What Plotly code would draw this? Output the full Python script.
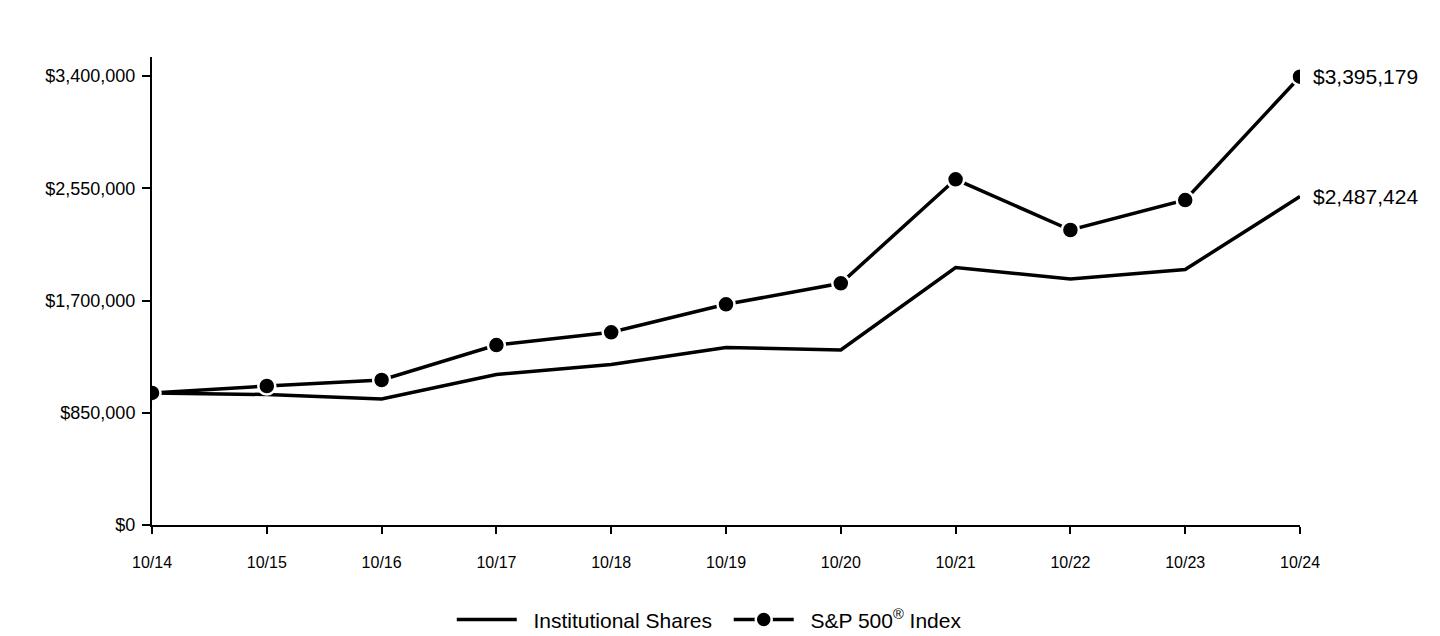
import plotly.graph_objects as go

# Growth of a $1,000,000 investment
periods = ["10/14", "10/15", "10/16", "10/17", "10/18", "10/19",
           "10/20", "10/21", "10/22", "10/23", "10/24"]
institutional = [1000000, 988000, 954000, 1139600, 1215400, 1344100,
                 1325200, 1949900, 1862800, 1934700, 2487424]
sp500 = [1000000, 1052600, 1098000, 1363000, 1459200, 1671200,
         1830300, 2617800, 2233900, 2461000, 3395179]
y_ticks = [0, 850000, 1700000, 2550000, 3400000]

font = "Liberation Sans, Arial, sans-serif"
pad = "&nbsp;&nbsp;"

fig = go.Figure()
fig.add_trace(go.Scatter(
    x=periods, y=institutional, mode="lines",
    name=pad + "Institutional Shares" + pad,
    line=dict(color="black", width=3.5),
))
fig.add_trace(go.Scatter(
    x=periods, y=sp500, mode="lines+markers",
    name=pad + "S&P 500<sup>®</sup> Index",
    line=dict(color="black", width=3.5),
    marker=dict(size=17, color="black", line=dict(color="white", width=2.5)),
))

# end-of-line value labels
for vals in (sp500, institutional):
    fig.add_annotation(
        x=periods[-1], y=vals[-1], text="${:,}".format(vals[-1]),
        showarrow=False, xanchor="left", yanchor="middle", xshift=11,
        font=dict(family=font, size=21, color="black"),
    )

# the page adds an 8px body margin, so margins are offset by it
fig.update_layout(
    width=1440, height=636,
    margin=dict(l=144, r=148, t=49, b=119),
    paper_bgcolor="white", plot_bgcolor="white",
    font=dict(family=font, color="black"),
    showlegend=True,
    legend=dict(
        orientation="h", xref="container", x=0.487, xanchor="center",
        yref="container", y=0.038, yanchor="middle",
        font=dict(family=font, size=21), itemwidth=60,
    ),
)
fig.update_xaxes(
    type="category", range=[0, 10], showgrid=False, zeroline=False,
    showline=True, linecolor="black", linewidth=2,
    ticks="outside", ticklen=7, tickwidth=2, tickcolor="black",
    tickfont=dict(family=font, size=16), ticklabelstandoff=15,
)
fig.update_yaxes(
    range=[0, 3544000], showgrid=False, zeroline=False,
    showline=True, linecolor="black", linewidth=2,
    ticks="outside", ticklen=8, tickwidth=2, tickcolor="black",
    tickvals=y_ticks, ticktext=["${:,}".format(v) for v in y_ticks],
    tickfont=dict(family=font, size=18), ticklabelstandoff=3,
)

fig.write_html("out.html")
